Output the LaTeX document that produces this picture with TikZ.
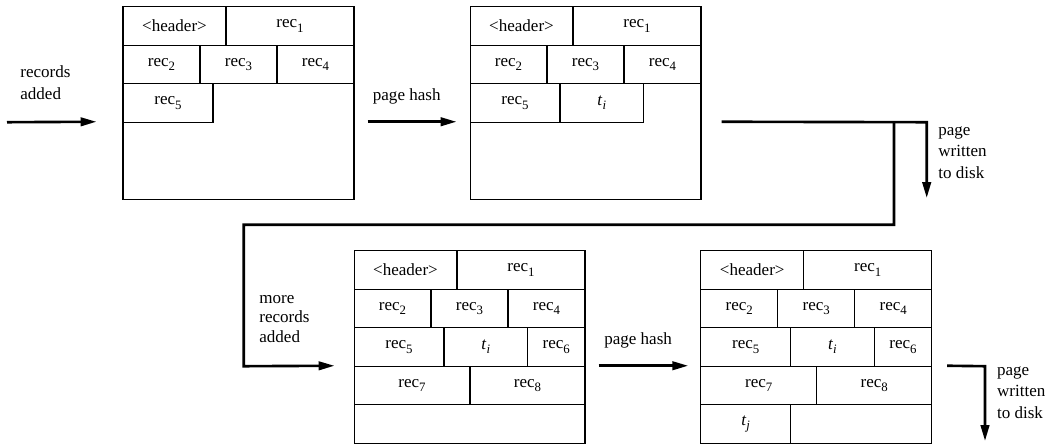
\documentclass[tikz,border=0pt]{standalone}
\usepackage{fontspec}
\setmainfont{Liberation Serif}
\usetikzlibrary{arrows.meta, positioning, calc}

\tikzset{
  page/.style={draw, line width=0.6pt, minimum width=4.62cm, minimum height=3.85cm, inner sep=0pt},
  cell/.style={draw, line width=0.6pt, anchor=north west, minimum height=0.77cm, inner sep=0pt},
  flow/.style={line width=1.5pt, ->},
  note/.style={align=left, anchor=base west, inner sep=0pt},
}

\newcommand{\sub}[1]{\raisebox{-2.4pt}{\fontsize{7.3pt}{8pt}\selectfont #1}}
\newcommand{\rec}[1]{rec\sub{#1}}
\newcommand{\tid}[1]{\textit{t}\sub{\textit{#1}}}

\begin{document}
\begin{tikzpicture}[x=0.02cm, y=-0.02cm, >={Triangle[length=9pt,width=4.8pt]},
    every node/.style={font=\fontsize{9.7pt}{12pt}\selectfont}]
  \useasboundingbox (0,0) rectangle (1054,444);

  % pages
  \node[page] (p1) at (238.5,103) {};
  \node[page] (p2) at (585.5,103) {};
  \node[page] (p3) at (469.5,347) {};
  \node[page] (p4) at (816.2,347) {};

  % first page
  \begin{scope}[shift={(p1.north west)}]
    \node[cell, minimum width=2.06cm] (p1hd) at (0,0) {<header>};
    \node[cell, minimum width=2.56cm] (p1r1) at (103,0) {\rec{1}};
    \node[cell, minimum width=1.54cm] (p1r2) at (0,38.5) {\rec{2}};
    \node[cell, minimum width=1.54cm] (p1r3) at (77,38.5) {\rec{3}};
    \node[cell, minimum width=1.54cm] (p1r4) at (154,38.5) {\rec{4}};
    \node[cell, minimum width=1.8cm] (p1r5) at (0,77) {\rec{5}};
  \end{scope}

  % after hashing
  \begin{scope}[shift={(p2.north west)}]
    \node[cell, minimum width=2.06cm] (p2hd) at (0,0) {<header>};
    \node[cell, minimum width=2.56cm] (p2r1) at (103,0) {\rec{1}};
    \node[cell, minimum width=1.54cm] (p2r2) at (0,38.5) {\rec{2}};
    \node[cell, minimum width=1.54cm] (p2r3) at (77,38.5) {\rec{3}};
    \node[cell, minimum width=1.54cm] (p2r4) at (154,38.5) {\rec{4}};
    \node[cell, minimum width=1.8cm] (p2r5) at (0,77) {\rec{5}};
    \node[cell, minimum width=1.67cm] (p2ti) at (90,77) {\tid{i}};
  \end{scope}

  % more records
  \begin{scope}[shift={(p3.north west)}]
    \node[cell, minimum width=2.06cm] (p3hd) at (0,0) {<header>};
    \node[cell, minimum width=2.56cm] (p3r1) at (103,0) {\rec{1}};
    \node[cell, minimum width=1.54cm] (p3r2) at (0,38.5) {\rec{2}};
    \node[cell, minimum width=1.54cm] (p3r3) at (77,38.5) {\rec{3}};
    \node[cell, minimum width=1.54cm] (p3r4) at (154,38.5) {\rec{4}};
    \node[cell, minimum width=1.8cm] (p3r5) at (0,77) {\rec{5}};
    \node[cell, minimum width=1.67cm] (p3ti) at (90,77) {\tid{i}};
    \node[cell, minimum width=1.15cm] (p3r6) at (173.5,77) {\rec{6}};
    \node[cell, minimum width=2.32cm] (p3r7) at (0,115.5) {\rec{7}};
    \node[cell, minimum width=2.3cm] (p3r8) at (116,115.5) {\rec{8}};
  \end{scope}

  % second hash
  \begin{scope}[shift={(p4.north west)}]
    \node[cell, minimum width=2.06cm] (p4hd) at (0,0) {<header>};
    \node[cell, minimum width=2.56cm] (p4r1) at (103,0) {\rec{1}};
    \node[cell, minimum width=1.54cm] (p4r2) at (0,38.5) {\rec{2}};
    \node[cell, minimum width=1.54cm] (p4r3) at (77,38.5) {\rec{3}};
    \node[cell, minimum width=1.54cm] (p4r4) at (154,38.5) {\rec{4}};
    \node[cell, minimum width=1.8cm] (p4r5) at (0,77) {\rec{5}};
    \node[cell, minimum width=1.67cm] (p4ti) at (90,77) {\tid{i}};
    \node[cell, minimum width=1.15cm] (p4r6) at (173.5,77) {\rec{6}};
    \node[cell, minimum width=2.32cm] (p4r7) at (0,115.5) {\rec{7}};
    \node[cell, minimum width=2.3cm] (p4r8) at (116,115.5) {\rec{8}};
    \node[cell, minimum width=1.8cm] (p4tj) at (0,154) {\tid{j}};
  \end{scope}

  % arrow ends
  \coordinate (in) at (7,122.2);
  \coordinate (a1) at ($(p1.north west)+(-26,115.5)$);
  \coordinate (b1) at ($(p1.north east)+(13,115.5)$);
  \coordinate (b2) at ($(p2.north west)+(-13,115.5)$);
  \coordinate (c1) at ($(p2.north east)+(20,115.5)$);
  \coordinate (c2) at (926.7,122.2);
  \coordinate (c3) at (926.7,198);
  \coordinate (split) at (894,122.2);
  \coordinate (d1) at (894,224.7);
  \coordinate (d2) at (243.7,224.7);
  \coordinate (d3) at (243.7,366.2);
  \coordinate (d4) at ($(p3.north west)+(-19,115.5)$);
  \coordinate (e1) at ($(p3.north east)+(13,115.5)$);
  \coordinate (e2) at ($(p4.north west)+(-12,115.5)$);
  \coordinate (f1) at ($(p4.north east)+(15,115.5)$);
  \coordinate (f2) at (985,366.2);
  \coordinate (f3) at (985,441);

  \draw[flow] (in) -- (a1);
  \draw[flow] (b1) -- node[above=6pt, xshift=-3pt] (h1) {page hash} (b2);
  \draw[flow] (c1) -- (c2) -- (c3);
  \draw[flow] (split) -- (d1) -- (d2) -- (d3) -- (d4);
  \draw[flow] (e1) -- node[above=6pt, xshift=-3pt] (h2) {page hash} (e2);
  \draw[flow] (f1) -- (f2) -- (f3);

  % side notes (anchored on the last line)
  \node[note] (n1) at (20,99) {records\\added};
  \node[note] (n2) at (938,178) {page\\written\\to disk};
  \node[note, font=\fontsize{9.7pt}{11pt}\selectfont] (n3) at (259,342) {more\\records\\added};
  \node[note] (n4) at (996.7,418) {page\\written\\to disk};
\end{tikzpicture}
\end{document}
